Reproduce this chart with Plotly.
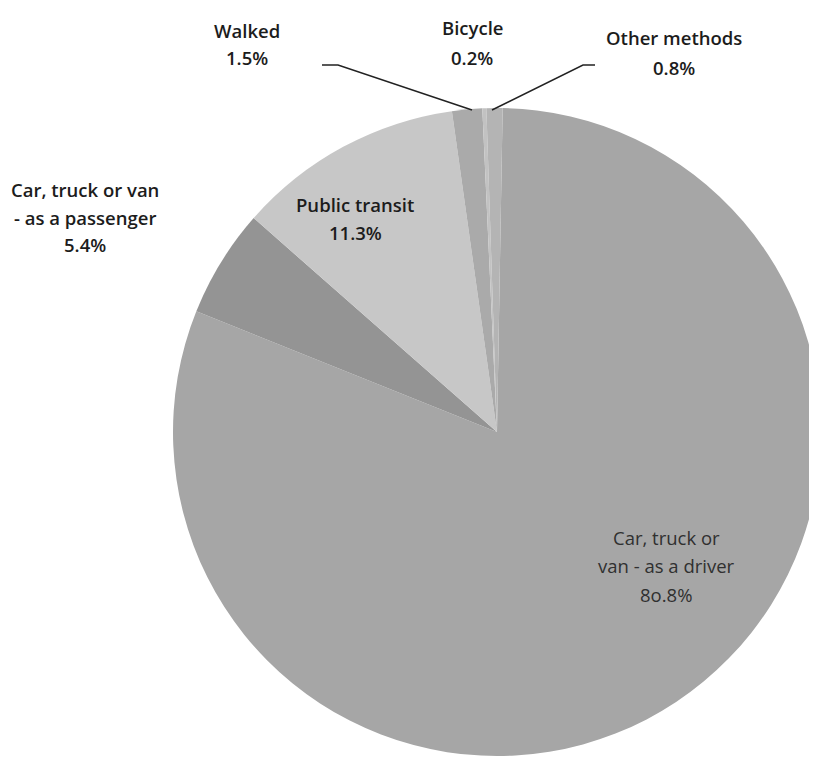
import plotly.graph_objects as go

labels = ["Car, truck or van - as a driver", "Car, truck or van - as a passenger",
          "Public transit", "Walked", "Bicycle", "Other methods"]
label_lines = [["Car, truck or", "van - as a driver"],
               ["Car, truck or van", "- as a passenger"],
               ["Public transit"], ["Walked"], ["Bicycle"], ["Other methods"]]
values = [80.8, 5.4, 11.3, 1.5, 0.2, 0.8]
value_text = ["8o.8%", "5.4%", "11.3%", "1.5%", "0.2%", "0.8%"]
colors = ["#a6a6a6", "#949494", "#c7c7c7", "#aaaaaa", "#c2c2c2", "#b4b4b4"]

W, H = 817, 761
OFF = 8  # page body margin

def fx(x):
    return (x - OFF) / W

def fy(y):
    return 1 - (y - OFF) / H

fig = go.Figure(go.Pie(
    labels=labels, values=values, sort=False, direction="clockwise", rotation=1,
    marker=dict(colors=colors, line=dict(width=0)),
    textinfo="none", hoverinfo="label+percent", showlegend=False,
    domain=dict(x=[fx(173), fx(821)], y=[fy(756), fy(108)]),
))

# first-line centre (pixels) and line spacing for each slice label
label_pos = [(666, 537, 28.5), (85, 190, 27), (355, 205, 27), (247, 30, 28), (472, 28, 29), (674, 38, 29)]
weights = [400, 600, 600, 600, 600, 600]
tcolors = ["#303030", "#1c1c1c", "#1c1c1c", "#1c1c1c", "#1c1c1c", "#1c1c1c"]
for lines, vt, (px, py, dy), wt, tc in zip(label_lines, value_text, label_pos, weights, tcolors):
    for i, t in enumerate(lines + [vt]):
        fig.add_annotation(
            x=fx(px), y=fy(py + i * dy), xref="paper", yref="paper",
            text=t, showarrow=False,
            font=dict(family="Open Sans", size=18.5, color=tc, weight=wt),
            xanchor="center", yanchor="middle",
        )

def pth(pts):
    return "M " + " L ".join(f"{fx(x)},{fy(y)}" for x, y in pts)

for pts in ([(322, 65), (338, 65), (472, 110)], [(595, 65), (583, 65), (492, 110)]):
    fig.add_shape(type="path", path=pth(pts), xref="paper", yref="paper",
                  line=dict(color="#222222", width=1.5))

fig.update_layout(width=W, height=H, margin=dict(l=0, r=0, t=0, b=0),
                  paper_bgcolor="white", plot_bgcolor="white")
fig.write_html("out.html")
